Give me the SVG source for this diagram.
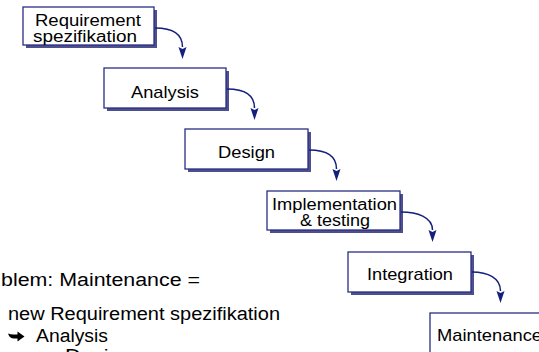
<svg xmlns="http://www.w3.org/2000/svg" width="539" height="352" viewBox="0 0 539 352">
<style>
  .box { fill: #ffffff; stroke: #2a2d86; stroke-width: 1.3; }
  .shadow { fill: #2f3379; opacity: 0.85; }
  .lbl { font-family: "Liberation Sans", Arial, Helvetica, sans-serif; font-size: 17px; fill: #000000; }
  .lbl2 { font-family: "Liberation Sans", Arial, Helvetica, sans-serif; font-size: 16px; fill: #000000; }
  .body { font-family: "Liberation Sans", Arial, Helvetica, sans-serif; font-size: 18px; fill: #000000; }
  .conn { fill: none; stroke: #13207c; stroke-width: 1.5; }
</style>
<defs>
  <filter id="blur" x="-10%" y="-10%" width="120%" height="130%">
    <feGaussianBlur stdDeviation="0.7"/>
  </filter>
  <marker id="ah" markerUnits="userSpaceOnUse" markerWidth="14" markerHeight="10" viewBox="0 -5 14 10" refX="0" refY="0" orient="auto">
    <path d="M0,-4 L12,0 L0,4 L2,0 z" fill="#13207c"/>
  </marker>
</defs>
<rect width="539" height="352" fill="#ffffff"/>

<g id="req">
  <rect class="shadow" x="26" y="10" width="131" height="38" filter="url(#blur)"/>
  <rect class="box" x="23" y="7" width="131" height="38"/>
  <text class="lbl2" x="35" y="26" textLength="106" lengthAdjust="spacingAndGlyphs">Requirement</text>
  <text class="lbl2" x="33" y="41.5" textLength="104" lengthAdjust="spacingAndGlyphs">spezifikation</text>
</g>

<g id="analysis">
  <rect class="shadow" x="107" y="71" width="122" height="40" filter="url(#blur)"/>
  <rect class="box" x="104" y="68" width="122" height="40"/>
  <text class="lbl" x="131" y="98" textLength="68" lengthAdjust="spacingAndGlyphs">Analysis</text>
</g>

<g id="design">
  <rect class="shadow" x="188" y="132" width="123" height="40" filter="url(#blur)"/>
  <rect class="box" x="185" y="129" width="123" height="40"/>
  <text class="lbl" x="218" y="158" textLength="57" lengthAdjust="spacingAndGlyphs">Design</text>
</g>

<g id="implementation">
  <rect class="shadow" x="270" y="194" width="133" height="39" filter="url(#blur)"/>
  <rect class="box" x="267" y="191" width="133" height="39"/>
  <text class="lbl2" x="272" y="210" textLength="125" lengthAdjust="spacingAndGlyphs">Implementation</text>
  <text class="lbl2" x="300" y="225.5" textLength="70" lengthAdjust="spacingAndGlyphs">&amp; testing</text>
</g>

<g id="integration">
  <rect class="shadow" x="351" y="255" width="123" height="40" filter="url(#blur)"/>
  <rect class="box" x="348" y="252" width="123" height="40"/>
  <text class="lbl" x="367" y="280" textLength="86" lengthAdjust="spacingAndGlyphs">Integration</text>
</g>

<g id="maintenance">
  <rect class="shadow" x="433" y="316" width="123" height="40" filter="url(#blur)"/>
  <rect class="box" x="430" y="313" width="123" height="40"/>
  <text class="lbl" x="437" y="341" textLength="105" lengthAdjust="spacingAndGlyphs">Maintenance</text>
</g>

<g id="connectors">
  <path class="conn" marker-end="url(#ah)" d="M155,28 C171,28 182.5,33 182.5,47"/>
  <path class="conn" marker-end="url(#ah)" d="M227,89 C243,89 254.5,94 254.5,108"/>
  <path class="conn" marker-end="url(#ah)" d="M309,150 C325,150 336.5,155 336.5,169"/>
  <path class="conn" marker-end="url(#ah)" d="M401,212 C417,212 432.5,217 432.5,230"/>
  <path class="conn" marker-end="url(#ah)" d="M472,272 C488,272 500.5,278 500.5,291"/>
</g>

<g id="notes">
  <text class="body" x="1" y="286" textLength="199" lengthAdjust="spacingAndGlyphs">blem: Maintenance =</text>
  <text class="body" x="8" y="320" textLength="272" lengthAdjust="spacingAndGlyphs">new Requirement spezifikation</text>
  <path d="M8,333.5 Q9.5,338.5 14,338.5 L17.5,338.5 L17.5,341.5 L24.5,336.5 L17.5,331.5 L17.5,334.5 L13.5,334.5 Q10.5,334.5 8,333.5 z" fill="#000000"/>
  <text class="body" x="36" y="342" textLength="72" lengthAdjust="spacingAndGlyphs">Analysis</text>
  <text class="body" x="65" y="361.5" textLength="68" lengthAdjust="spacingAndGlyphs">Design</text>
</g>
</svg>
